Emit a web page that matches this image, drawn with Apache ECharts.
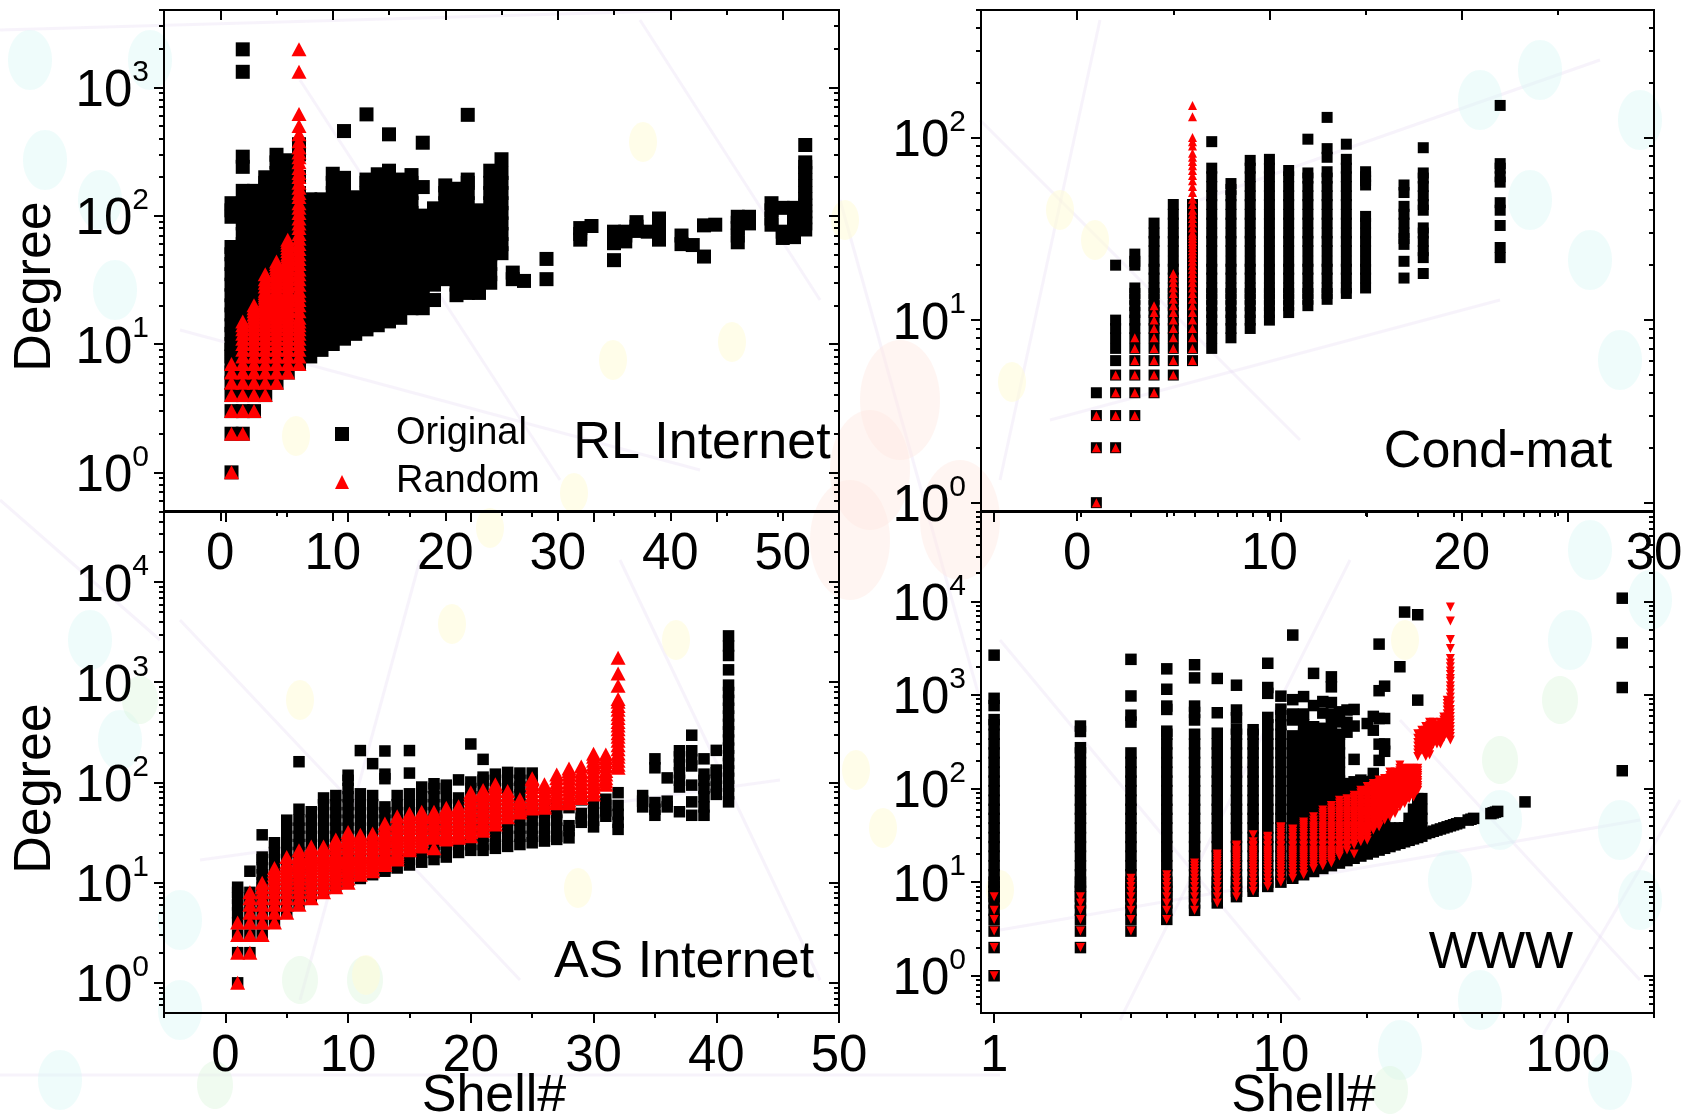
<!DOCTYPE html>
<html>
<head>
<meta charset="utf-8">
<title>Degree vs shell</title>
<style>html,body{margin:0;padding:0;background:#fff}#c{width:1688px;height:1120px}</style>
<script src="https://cdn.jsdelivr.net/npm/echarts@6/dist/echarts.min.js"></script>
</head>
<body>
<div id="c"></div>
<script>
// ---------- RL Internet ----------
const rlOrigShells=[1,2,3,4,5,6,7,8,9,10,11,12,13,14,15,16,17,18,19,20,21,22,23,24,25,26,27,29,32,33,35,36,37,38,39,41,42,43,44,46,47,49,50,51,52];
const rlOrig=[
[1,2,3,4,5,6,7,8,9,10,12,14,17,20,24,29,35,42,50,57,98,110,125],
[2,3,4,5,6,7,8,9,10,12,14,17,20,24,29,35,42,50,60,72,87,105,125,156,240,288,1320,1975],
[3,4,5,6,7,8,9,10,12,14,17,20,24,29,35,42,50,60,72,87,105,125,156],
[4,5,6,7,8,9,10,12,14,17,20,24,29,35,42,50,60,72,87,105,125,150,180,199],
[5,6,7,8,9,10,12,14,17,20,24,29,35,42,50,60,72,87,105,125,150,180,215,260,298],
[6,7,8,9,10,12,14,17,20,24,29,35,42,50,60,72,87,105,125,150,180,215,270],
[7,8,9,10,12,14,17,20,24,29,35,42,50,60,72,87,105,125,150,200,300,360],
[8,9,10,12,14,17,20,24,29,35,42,50,60,72,87,105,125,134],
[9,10,12,14,17,20,24,29,35,42,50,60,72,87,105,125,134],
[10,12,14,17,20,24,29,35,42,50,60,72,87,105,125,150,180,212],
[11,12,14,17,20,24,29,35,42,50,60,72,87,105,125,150,180,197,456],
[12,14,17,20,24,29,35,42,50,60,72,87,105,125,139],
[13,14,17,20,24,29,35,42,50,60,72,87,105,125,150,180,191,615],
[14,17,20,24,29,35,42,50,60,72,87,105,125,150,180,210],
[15,17,20,24,29,35,42,50,60,72,87,105,125,150,180,224,430],
[16,20,24,29,35,42,50,60,72,87,105,125,150,180,191],
[19,24,29,35,42,50,60,72,87,105,125,150,180,207],
[19,24,29,35,42,50,60,72,87,100,167,370],
[22,29,35,42,50,60,72,87,105,114],
[32,35,42,50,60,72,87,105,125,150,172],
[24,29,35,42,50,60,72,87,105,125,150,162],
[25,29,35,42,50,60,72,87,105,125,150,180,191,610],
[25,29,35,42,50,60,72,87,105,110],
[30,35,42,50,60,72,87,105,125,150,180,224],
[51,60,72,87,105,125,150,180,215,275],
[32,36],[31],[32,46],[65,72,80],[83],[45,61,68,75],[63,70,75],[76,82,89],[75],[65,72,80,88,95],
[60,70],[59],[48,84],[85],[62,70,80,88,98],[87,98],[85,95,110,125],[67,75,115],[68,76,85,95,105,115],
[78,87,97,108,120,135,150,170,190,215,240,260,355]
];
const rlRandShells=[1,2,3,4,5,6,7];
const rlRand=[
[1,2,3,4,5,6,7],
[2,3,4,5,6,7,8,9,10,11,12,13,14,15],
[3,4,5,6,7,8,9,10,11,12,13,14,15,16,17,18,19,20],
[4,5,6,7,8,9,10,11,12,13,14,15,16,17,18,19,20,21,22,23,24,25,26,28,30,32,35],
[5,6,7,8,9,10,11,12,13,14,15,16,17,18,19,20,21,22,23,24,25,26,28,30,32,34,36,38,40,42,44],
[6,7,8,9,10,11,12,13,14,15,16,17,18,19,20,21,22,23,24,25,26,28,30,32,34,36,38,40,42,44,46,48,50,53,56,59,62,65],
[7,8,9,10,11,12,13,14,15,16,18,20,22,24,26,29,32,35,38,42,46,50,55,60,66,72,80,87,95,105,115,125,140,150,165,180,200,215,235,260,285,310,340,380,430,500,620,1320,1975]
];
// ---------- Cond-mat ----------
const cmOrigShells=[1,2,3,4,5,6,7,8,9,10,11,12,13,14,15,17,18,22];
const cmOrig=[
[1,2,3,4],
[2,3,4,5,6,7,8,9,10,20],
[3,4,5,6,7,8,9,10,11,12,13,14,15,20,21,23],
[4,5,6,7,8,9,10,11,12,13,14,15,17,19,21,24,27,30,34],
[5,6,7,8,9,10,11,12,13,14,15,17,19,21,24,27,30,34,38,43],
[6,7,8,9,10,11,12,13,14,15,17,19,21,24,27,30,34,38,43],
[7,8,9,10,11,12,13,14,15,17,19,21,24,27,30,34,38,43,48,54,61,68,95],
[8,9,10,11,12,13,14,15,17,19,21,24,27,30,34,38,43,48,52,56],
[9,10,11,12,13,14,15,17,19,21,24,27,30,34,38,43,48,54,61,68,75],
[10,11,12,13,14,15,17,19,21,24,27,30,34,38,43,48,54,61,68,76],
[11,12,13,14,15,17,19,21,24,27,30,34,38,43,48,54,61,66],
[12,13,14,15,17,19,21,24,27,30,34,38,43,48,54,60,64,98],
[13,14,15,17,19,21,24,27,30,34,38,43,48,54,60,65,78,87,129],
[14,15,17,19,21,24,27,30,34,38,43,48,54,61,68,76,92],
[15,17,19,21,24,27,30,34,37,55,58,61,65],
[17,21,26,28,30,34,38,42,50,55],
[18,22,24,27,30,32,40,43,48,54,60,64,88],
[22,25,33,40,44,57,61,68,72,150]
];
const cmRandShells=[1,2,3,4,5,6];
const cmRand=[
[1,2,3],
[2,3,4,5],
[3,4,5,6,7,8],
[4,5,6,7,8,9,10,11,12],
[5,6,7,8,9,10,11,12,13,14,15,16,17,18],
[6,7,8,9,10,11,12,13,14,15,16,17,18,19,20,21,22,23,24,25,26,27,28,29,30,32,34,36,38,40,43,46,50,54,58,62,66,70,74,78,82,90,95,100,130,150]
];
// ---------- AS Internet ----------
const asOrigShells=[1,2,3,4,5,6,7,8,9,10,11,12,13,14,15,16,17,18,19,20,21,22,23,24,25,26,27,28,29,30,31,32,34,35,36,37,38,39,40,41];
const asOrig=[
[1,2,3,4,5,6,7,8,9],
[2,3,4,5,6,7,8,13],
[3,4,5,6,7,8,9,10,12,14,17,18,30],
[4,5,6,7,8,9,10,12,14,17,20,25],
[5,6,7,8,9,10,12,14,17,20,24,29,35,42],
[6,7,8,9,10,12,14,17,20,24,29,35,42,54,161],
[7,8,9,10,12,14,17,20,24,29,35,42,51],
[8,9,10,12,14,17,20,24,29,35,42,50,60,70],
[9,10,12,14,17,20,24,29,35,42,50,60,74],
[10,12,14,17,20,24,29,35,42,50,60,72,87,105,118],
[11,12,14,17,20,24,29,35,42,50,60,77,208],
[12,14,17,20,24,29,35,42,50,60,74,154],
[13,14,17,20,24,29,35,42,50,57,109,121,206],
[14,17,20,24,29,35,42,50,60,74],
[15,17,20,24,29,35,42,50,60,77,124,208],
[16,20,24,29,35,42,50,60,72,90],
[17,20,24,29,35,42,50,60,72,87,97],
[18,20,24,29,35,42,50,60,72,87,94],
[20,24,29,35,42,50,60,70,106],
[21,24,29,35,42,50,60,72,87,101,242],
[21,24,29,35,42,50,60,72,87,105,113,170],
[22,24,29,35,42,50,60,72,87,105,121],
[23,29,35,42,50,60,72,87,105,126],
[24,29,35,42,50,60,75,90,105,124],
[25,29,35,42,50,60,90,105,124],
[26,29,35,42,50,60],
[27,29,35,42,50,60],
[28,33,37,56],
[40,44,49,67],
[36,42,50,62],
[46,52,59,68],
[34,40,48,59,79],
[57,65,74],
[47,54,63,140,172],
[57,65,111],
[51,90,105,125,150,180,207],
[47,64,94,146,170,207,296],
[47,57,72,87,105,121,172],
[76,90,105,125,133,209],
[64,77,92,110,130,155,185,220,265,320,380,460,550,660,790,936,1330,1850,2300,2900]
];
const asRandShells=[1,2,3,4,5,6,7,8,9,10,11,12,13,14,15,16,17,18,19,20,21,22,23,24,25,26,27,28,29,30,31,32];
const asRand=[
[1,2,3,4],
[2,3,4,5,6,7,8],
[3,4,5,6,7,8,9,10],
[4,5,6,7,8,9,10,11,12,13,14],
[5,6,7,8,9,10,11,12,13,14,15,16,18],
[6,7,8,9,10,11,12,13,14,15,16,17,18,19,21],
[7,8,9,10,11,12,13,14,15,16,17,18,19,20,22,23],
[8,9,10,11,12,13,14,15,16,17,18,19,20,22,23],
[9,10,11,12,13,14,15,16,17,18,19,20,22,24,26,27],
[10,11,12,13,14,15,16,17,18,19,20,22,24,26,28,30,32],
[12,13,14,15,16,17,18,19,20,22,24,26,28,30],
[13,14,15,16,17,18,19,20,22,24,26,28,31],
[15,16,17,18,19,20,22,24,26,28,30,32,35,39],
[17,18,19,20,22,24,26,28,30,32,35,38,41,46],
[21,22,24,26,28,30,32,35,38,41,45,49],
[23,24,26,28,30,32,35,38,41,45,48,51],
[22,28,30,32,35,38,41,45,48,51],
[27,28,30,32,35,38,41,45,49,53,56],
[28,30,32,35,38,41,45,49,53,58],
[29,32,35,38,41,45,49,53,58,63,69,75,80],
[33,35,38,41,45,49,53,58,63,69,75,80,84],
[38,41,45,49,53,58,63,69,75,82,90,96],
[45,49,53,58,63,69,75,82],
[50,53,58,63,68],
[55,58,63,69,75,82,90,98,107,110],
[56,58,63,69,75,82,90,96],
[62,66,72,78,85,92,100,110,120],
[62,66,72,78,85,92,100,110,120,130,138],
[70,75,82,90,98,107,117,128,144],
[76,82,90,98,107,117,128,140,152,165,180,193],
[95,103,110,120,130,145,160,175,190],
[140,150,165,180,195,215,235,260,285,310,340,370,400,440,480,530,580,640,680,925,1220,1760]
];
// ---------- WWW ----------
const wwOrigShells=[1,2,3,4,5,6,7,8,9,10,11,12,13,14,15,16,17,18,19,20,21,22,23,24,25,26,27,28,29,30,31,32,33,34,35,36,37,38,39,40,41,42,45,46,47,54,55,56,57,71,155];
const wwOrig=[
[1,2,3,4,5,6,7,8,9,10,12,15,19,24,30,38,48,60,75,95,120,150,190,240,300,380,480,545,770,920,2660],
[2,3,4,5,6,7,8,9,10,12,15,19,24,30,38,48,60,75,95,120,150,190,240,273,407,465],
[3,4,5,6,7,8,9,10,12,15,19,24,30,38,48,60,75,95,120,150,190,240,513,607,975,2400],
[4,5,6,7,8,9,10,12,15,19,24,30,38,48,60,75,95,120,150,190,240,300,380,410,700,760,1150,1900],
[5,6,7,8,9,10,12,15,19,24,30,38,48,60,75,95,120,150,190,240,300,380,540,650,760,1520,2100],
[6,7,8,9,10,12,15,19,24,30,38,48,60,75,95,120,150,190,240,300,390,645,1500],
[7,8,9,10,12,15,19,24,30,38,48,60,75,95,120,150,190,240,300,380,432,570,690,1270],
[8,9,10,12,15,19,24,30,38,48,60,75,95,120,150,190,240,300,380,425],
[9,10,12,15,19,24,30,38,48,60,75,95,120,150,190,240,300,380,480,575,1040,1200,2180],
[10,12,15,19,24,30,38,48,60,75,95,120,150,190,240,300,380,480,600,705,970],
[11,12,15,19,24,30,38,48,60,75,95,120,150,190,240,300,365,540,625,890,4360],
[12,15,19,24,30,38,48,60,75,95,120,150,190,240,300,380,480,625,960],
[13,15,19,24,30,38,48,60,75,95,120,150,190,240,300,380,457,770,1700],
[14,15,19,24,30,38,48,60,75,95,120,150,190,240,300,380,440,640,850],
[15,19,24,30,38,48,60,75,95,120,150,190,240,300,380,480,625,830,1220,1560],
[16,19,24,30,38,48,60,75,95,120,150,190,240,300,380,515,660],
[17,19,24,30,38,48,60,75,95,113,400,510,690],
[18,24,30,38,48,60,75,95,118,205,465,700],
[19,24,30,38,48,60,75,95,123],
[20,24,30,38,48,60,75,95,118,495],
[21,24,30,38,48,60,75,95,120,145,420,590],
[22,24,30,38,48,60,75,100,200,298,560,1110,3490],
[23,30,38,48,60,75,250,300,560,1240],
[24,30,38],
[25,27],
[26,30,38,2000],
[27,30,38,7680],
[28,34,40,48],
[29,36,48,60],
[30,38,48,60,78,880,7190],
[31,38,48,60,78],
[33],[34],[35],[36],[37],[38],[39],[40],[41],[42],[43],[46],[47],[48],[54],[55],[56],[57],[72],
[155,1200,3600,10800]
];
const wwRandShells=[1,2,3,4,5,6,7,8,9,10,11,12,13,14,15,16,17,18,19,20,21,22,23,24,25,26,27,28,29,30,31,32,33,34,35,36,37,38,39];
const wwRand=[
[1,2,3,4,5,7],
[2,3,4,5,6,7],
[3,4,5,6,7,8,9,10,11],
[4,5,6,7,8,9,10,11,12],
[5,6,7,8,9,10,11,12,13,14,15,16],
[6,7,8,9,10,11,12,13,14,15,16,17,18,19,20],
[7,8,9,10,11,12,13,14,15,16,17,18,19,20,21,22,24,25],
[8,9,10,11,12,13,14,15,16,17,18,19,20,21,22,24,25,27,32],
[9,10,11,12,13,14,15,16,17,18,19,20,21,22,24,25,27,28,30,31],
[10,11,12,13,14,15,16,17,18,19,20,21,22,24,25,27,28,30,32,34,36,38,39],
[11,12,13,14,15,16,17,18,19,20,21,22,24,25,27,28,30,32,34,36,37],
[12,13,14,15,16,17,18,19,20,21,22,24,25,27,28,30,32,34,36,38,40,42,44],
[14,15,16,17,18,19,20,21,22,24,25,27,28,30,32,34,36,38,40,43,46,50],
[15,16,17,18,19,20,21,22,24,25,27,28,30,32,34,36,38,40,43,46,49,52,55,59],
[16,17,18,19,20,21,22,24,25,27,28,30,32,34,36,38,40,43,46,49,52,55,58,62,66],
[19,20,21,22,24,25,27,28,30,32,34,36,38,40,43,46,49,52,55,58,62,66,70,75],
[22,24,25,27,28,30,32,34,36,38,40,43,46,49,52,55,58,62,66,70,75,78],
[20,25,27,28,30,32,34,36,38,40,43,46,49,52,55,58,62,66,70,75,80,85],
[27,28,30,32,34,36,38,40,43,46,49,52,55,58,62,66,70,75,80,85,90,96],
[28,30,32,34,36,38,40,43,46,49,52,55,58,62,66,70,75,80,85,90,96,105],
[36,38,40,43,46,49,52,55,58,62,66,70,75,80,85,90,96,102,108,113],
[39,40,43,46,49,52,55,58,62,66,70,75,80,85,90,96,102,108,115,123],
[46,49,52,55,58,62,66,70,75,80,85,90,96,102,108,115,122,128],
[50,52,55,58,62,66,70,75,80,85,90,96,102,108,115,122,130,138,150],
[54,58,62,66,70,75,80,85,90,96,102,108,115,122,130,138,150],
[64,66,70,75,80,85,90,96,102,108,115,122,130,138,146,155,165,178],
[69,75,80,85,90,96,102,108,115,122,130,138,146,155,165],
[78,80,85,90,96,102,108,115,122,130,138,146,155,165],
[81,85,90,96,102,108,115,122,130,138,146,155,165],
[96,102,108,115,122,130,138,146,155,165,220,240,260,285,310,345,385],
[257,280,300,325,350,385,420],
[220,240,260,285,310,345,385,420,460],
[230,250,270,295,320,350,380,410,440,475,510],
[300,325,350,385,420,460,510],
[300,325,350,385,420,450,480],
[300,325,350,385,420,460,510],
[350,385,420,460,500,540,580],
[380,415,450,490,530,580,630,690,750,810,880],
[330,360,390,425,460,500,540,590,640,700,780,860,950,1050,1150,1250,1400,1500,1650,1800,2000,2200,2450,3130,3900,6150,8700]
];
// ---------- axis ticks ----------
const linTicksRL={major:[0,10,20,30,40,50],minor:[-5,5,15,25,35,45,55]};
const linTicksCM={major:[0,10,20,30],minor:[-5,5,15,25]};
const linTicksAS={major:[0,10,20,30,40,50],minor:[-5,5,15,25,35,45]};
const logTicksWWWx={major:[1,10,100],minor:[2,3,4,5,6,7,8,9,20,30,40,50,60,70,80,90,200]};
const yRL={major:[1,10,100,1000],minor:[0.6,0.7,0.8,0.9,2,3,4,5,6,7,8,9,20,30,40,50,60,70,80,90,200,300,400,500,600,700,800,900,2000,3000,4000]};
const yCM={major:[1,10,100],minor:[2,3,4,5,6,7,8,9,20,30,40,50,60,70,80,90,200,300,400,500]};
const yAS={major:[1,10,100,1000,10000],minor:[0.6,0.7,0.8,0.9,2,3,4,5,6,7,8,9,20,30,40,50,60,70,80,90,200,300,400,500,600,700,800,900,2000,3000,4000,5000,6000,7000,8000,9000,20000,30000,40000,50000]};
const yWW={major:[1,10,100,1000,10000],minor:[0.5,0.6,0.7,0.8,0.9,2,3,4,5,6,7,8,9,20,30,40,50,60,70,80,90,200,300,400,500,600,700,800,900,2000,3000,4000,5000,6000,7000,8000,9000,20000,30000,40000,50000,60000,70000,80000,90000]};
// ---------- faint page decoration ----------
const blobsYellow=[[643,142],[845,220],[613,360],[732,342],[296,436],[574,493],[490,528],[452,624],[676,640],[856,770],[883,828],[578,888],[1060,210],[1095,240],[1012,382],[1405,640],[366,975],[300,700],[1000,890]];
const blobsCyan=[[30,60],[45,160],[115,290],[100,200],[150,60],[1480,100],[1530,200],[1590,260],[1640,120],[1620,360],[1540,70],[1590,550],[1570,640],[1650,600],[1500,820],[1620,830],[1400,1050],[1480,1000],[1610,1080],[60,1080],[180,1010],[90,640],[120,740],[180,920],[1640,900],[1450,880]];
const blobsGreen=[[300,980],[365,980],[215,1085],[140,700],[1500,760],[1560,700],[1390,1090]];
const blobsPink=[[870,470],[850,540],[960,520],[900,400]];
const paleLines=[[0,30,700,10],[180,330,700,470],[300,80,560,480],[640,20,820,300],[980,120,1300,440],[1100,20,1000,480],[1200,200,1600,60],[1050,420,1500,300],[180,620,520,980],[420,560,300,1000],[620,560,820,980],[200,860,780,780],[1000,640,1300,1000],[1350,560,1120,1020],[1400,720,1640,980],[1000,930,1640,820],[0,1075,1000,1075],[0,500,160,640],[840,200,980,700],[1540,1040,1680,800]];
const textSans='"Liberation Sans", Arial, Helvetica, sans-serif';

function pairs(shells,rows){const out=[];shells.forEach((s,i)=>rows[i].forEach(d=>out.push([s,d])));return out;}
const panels=[
 {left:164,top:10,w:675,h:501,xType:'value',xMin:-5,xMax:55,xt:linTicksRL,yMin:0.5,yMax:4000,yt:yRL,oS:rlOrigShells,o:rlOrig,rS:rlRandShells,r:rlRand,sq:14,tri:[15,14],rot:0,yName:'Degree'},
 {left:981,top:10,w:673,h:501,xType:'value',xMin:-5,xMax:30,xt:linTicksCM,yMin:0.9,yMax:500,yt:yCM,oS:cmOrigShells,o:cmOrig,rS:cmRandShells,r:cmRand,sq:11,tri:[9,9],rot:0},
 {left:164,top:512,w:675,h:501,xType:'value',xMin:-5,xMax:50,xt:linTicksAS,yMin:0.5,yMax:50000,yt:yAS,oS:asOrigShells,o:asOrig,rS:asRandShells,r:asRand,sq:11.5,tri:[15,14],rot:0,yName:'Degree',xName:'Shell#',xPad:15},
 {left:981,top:512,w:673,h:501,xType:'log',xMin:0.9,xMax:200,xt:logTicksWWWx,yMin:0.4,yMax:90000,yt:yWW,oS:wwOrigShells,o:wwOrig,rS:wwRandShells,r:wwRand,sq:11.5,tri:[9,9],rot:180,xName:'Shell#',xPad:28}
];
const grids=[],xAxes=[],yAxes=[],series=[];
const lineStyle={color:'#000',width:2};
panels.forEach((p,gi)=>{
  grids.push({left:p.left,top:p.top,width:p.w,height:p.h,containLabel:false,show:false,outerBoundsMode:'none'});
  const xBase={type:p.xType,gridIndex:gi,min:p.xMin,max:p.xMax,logBase:10,axisLine:{show:true,onZero:false,lineStyle},splitLine:{show:false},minorTick:{show:false},scale:true};
  const yBase={type:'log',gridIndex:gi,min:p.yMin,max:p.yMax,logBase:10,axisLine:{show:true,onZero:false,lineStyle},splitLine:{show:false},minorTick:{show:false}};
  const xi=xAxes.length, yi=yAxes.length;
  xAxes.push(Object.assign({},xBase,{position:'bottom',name:p.xName||'',nameLocation:'middle',nameGap:58,nameMoveOverlap:false,
    nameTextStyle:{fontFamily:textSans,fontSize:52,color:'#000',padding:[0,p.xPad||0,0,0]},
    axisTick:{show:true,inside:false,length:10,lineStyle,customValues:p.xt.major},
    axisLabel:{show:true,margin:18,fontFamily:textSans,fontSize:51,color:'#000',customValues:p.xt.major,formatter:v=>String(v)}}));
  xAxes.push(Object.assign({},xBase,{position:'bottom',axisTick:{show:true,inside:false,length:5,lineStyle,customValues:p.xt.minor},axisLabel:{show:false}}));
  xAxes.push(Object.assign({},xBase,{position:'top',axisTick:{show:true,inside:true,length:10,lineStyle,customValues:p.xt.major},axisLabel:{show:false}}));
  xAxes.push(Object.assign({},xBase,{position:'top',axisTick:{show:true,inside:true,length:5,lineStyle,customValues:p.xt.minor},axisLabel:{show:false}}));
  yAxes.push(Object.assign({},yBase,{position:'left',name:p.yName||'',nameLocation:'middle',nameGap:102,nameRotate:90,
    nameTextStyle:{fontFamily:textSans,fontSize:52,color:'#000',padding:[0,52,0,0]},
    axisTick:{show:true,inside:false,length:10,lineStyle,customValues:p.yt.major},
    axisLabel:{show:true,margin:15,customValues:p.yt.major,formatter:v=>'{b|10}{s|'+Math.round(Math.log10(v))+'}',
      rich:{b:{fontFamily:textSans,fontSize:51,color:'#000',lineHeight:50,verticalAlign:'bottom'},s:{fontFamily:textSans,fontSize:30,color:'#000',lineHeight:60,verticalAlign:'top'}}}}));
  yAxes.push(Object.assign({},yBase,{position:'left',axisTick:{show:true,inside:false,length:5,lineStyle,customValues:p.yt.minor},axisLabel:{show:false}}));
  yAxes.push(Object.assign({},yBase,{position:'right',axisTick:{show:true,inside:true,length:10,lineStyle,customValues:p.yt.major},axisLabel:{show:false}}));
  yAxes.push(Object.assign({},yBase,{position:'right',axisTick:{show:true,inside:true,length:5,lineStyle,customValues:p.yt.minor},axisLabel:{show:false}}));
  series.push({name:'Original',type:'scatter',xAxisIndex:xi,yAxisIndex:yi,symbol:'rect',symbolSize:p.sq,itemStyle:{color:'#000',opacity:1},data:pairs(p.oS,p.o),silent:true,z:3,clip:false,progressive:0});
  series.push({name:'Random',type:'scatter',xAxisIndex:xi,yAxisIndex:yi,symbol:'triangle',symbolRotate:p.rot,symbolSize:p.tri,itemStyle:{color:'#ff0000',opacity:1},data:pairs(p.rS,p.r),silent:true,z:4,clip:false,progressive:0});
});
const graphic=[];
function blob(list,fill,rx,ry){list.forEach(b=>graphic.push({type:'ellipse',silent:true,z:-10,shape:{cx:b[0],cy:b[1],rx,ry},style:{fill}}));}
paleLines.forEach(l=>graphic.push({type:'line',silent:true,z:-11,shape:{x1:l[0],y1:l[1],x2:l[2],y2:l[3]},style:{stroke:'rgba(228,212,240,0.28)',lineWidth:3}}));
blob(blobsCyan,'rgba(215,248,244,0.4)',22,30);
blob(blobsGreen,'rgba(222,246,222,0.45)',18,24);
blob(blobsYellow,'rgba(255,252,215,0.55)',14,20);
blob(blobsPink,'rgba(255,232,226,0.45)',40,60);
function label(text,x,y,size){graphic.push({type:'text',silent:true,z:60,x,y,style:{text,fontFamily:textSans,fontSize:size,fill:'#000',align:'center',verticalAlign:'middle'}});}
label('RL Internet',702,444,52);
label('Cond-mat',1498,453,52);
label('AS Internet',684,963,52);
label('WWW',1501,954,51);
const chart=echarts.init(document.getElementById('c'),null,{renderer:'canvas',width:1688,height:1120});
chart.setOption({
  animation:false,backgroundColor:'#fff',
  grid:grids,xAxis:xAxes,yAxis:yAxes,series,graphic,
  legend:{show:true,selectedMode:false,orient:'vertical',left:330,top:410,itemWidth:14,itemHeight:14,itemGap:10,
    data:[{name:'Original',icon:'rect'},{name:'Random',icon:'triangle'}],
    textStyle:{fontFamily:textSans,fontSize:38,color:'#000',padding:[0,0,0,42]}}
});
</script>
</body>
</html>
